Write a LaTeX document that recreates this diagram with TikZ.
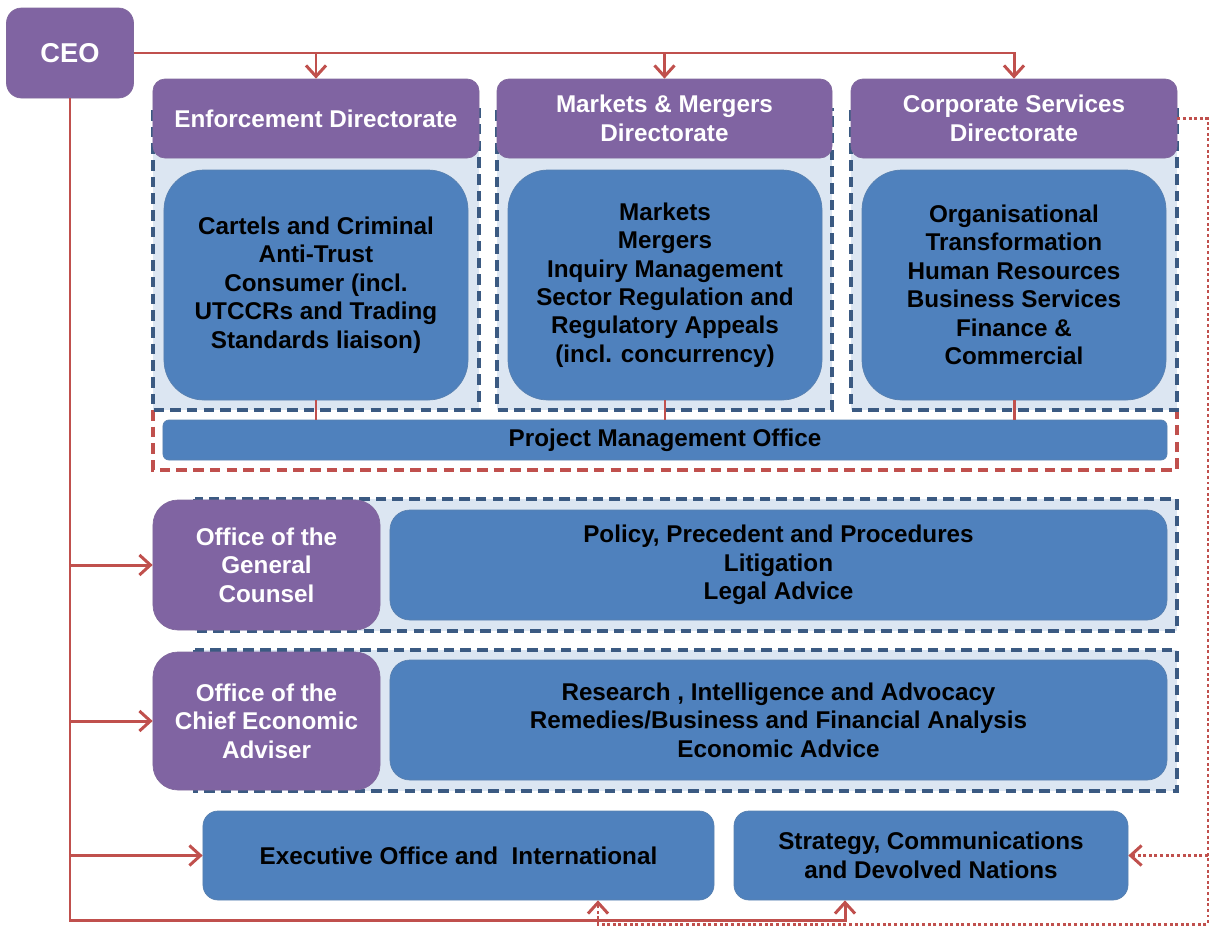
\documentclass[tikz,border=0pt]{standalone}
\usepackage{fontspec}
\setmainfont{Liberation Sans}
\usetikzlibrary{arrows.meta}

\definecolor{dirpurple}{HTML}{8064A2}
\definecolor{unitblue}{HTML}{4F81BD}
\definecolor{groupfill}{HTML}{DCE6F2}
\definecolor{groupedge}{HTML}{3B5A82}
\definecolor{linkred}{HTML}{C0504D}

\begin{document}
\begin{tikzpicture}[x=0.2mm, y=-0.2mm,
    every node/.style={font=\fontsize{13.8}{16.2}\selectfont\bfseries, align=center, inner sep=0pt},
    head/.style={fill=dirpurple, draw=dirpurple!85!gray, text=white, rounded corners=2.4mm},
    unit/.style={fill=unitblue, draw=unitblue!80!gray, text=black, rounded corners=3mm},
    group/.style={fill=groupfill, draw=groupedge, line width=2.2pt, dash pattern=on 6pt off 3.5pt},
    link/.style={draw=linkred, line width=1.7pt, -{Straight Barb[length=2.2mm,width=4mm]}},
    dotlink/.style={link, dash pattern=on 1.7pt off 1.5pt}]
    \useasboundingbox (0,0) rectangle (1209,926);

    % Dashed frames behind the boxes
    \draw[draw=linkred, line width=2.2pt, dash pattern=on 6pt off 3.5pt]
        (153,410) -- (153,470) -- (1177,470) -- (1177,410);
    \draw[group] (153,110) rectangle (479,410);
    \draw[group] (497,110) rectangle (832,410);
    \draw[group] (851,110) rectangle (1177,410);
    \draw[group] (195,499) rectangle (1177,631);
    \draw[group] (195,650) rectangle (1177,791);

    % CEO and directorates
    \node[head, rounded corners=3mm, minimum width=25.4mm, minimum height=18mm,
          font=\fontsize{15.5}{18}\selectfont\bfseries] (ceo) at (70,53) {CEO};
    \node[head, minimum width=65.2mm, minimum height=15.8mm] (enf) at (316,118.5) {Enforcement Directorate};
    \node[head, minimum width=67mm, minimum height=15.8mm] (mm) at (664.5,118.5) {Markets \& Mergers\\Directorate};
    \node[head, minimum width=65.2mm, minimum height=15.8mm] (cs) at (1014,118.5) {Corporate Services\\Directorate};

    % Units inside each directorate
    \node[unit, rounded corners=8mm, minimum width=60.8mm, minimum height=46mm] (enfunits) at (316,285)
        {Cartels and Criminal\\Anti-Trust\\Consumer (incl.\\UTCCRs and Trading\\Standards liaison)};
    \node[unit, rounded corners=8mm, minimum width=62.8mm, minimum height=46mm] (mmunits) at (665,285)
        {Markets\\Mergers\\Inquiry Management\\Sector Regulation and\\Regulatory Appeals\\(incl. concurrency)};
    \node[unit, rounded corners=8mm, minimum width=60.8mm, minimum height=46mm] (csunits) at (1014,285)
        {Organisational\\Transformation\\Human Resources\\Business Services\\Finance \&\\Commercial};
    \node[unit, rounded corners=1.2mm, minimum width=200.8mm, minimum height=8mm] (pmo) at (665,440)
        {Project Management Office};

    % Offices
    \node[head, rounded corners=5mm, minimum width=45.4mm, minimum height=26mm] (gc) at (266.5,565)
        {Office of the\\General\\Counsel};
    \node[unit, rounded corners=4mm, minimum width=155.4mm, minimum height=22mm] (gcunits) at (778.5,565)
        {Policy, Precedent and Procedures\\Litigation\\Legal Advice};
    \node[head, rounded corners=5mm, minimum width=45.4mm, minimum height=27.6mm] (cea) at (266.5,721)
        {Office of the\\Chief Economic\\Adviser};
    \node[unit, rounded corners=4mm, minimum width=155.4mm, minimum height=24mm] (ceaunits) at (778.5,720)
        {Research , Intelligence and Advocacy\\Remedies/Business and Financial Analysis\\Economic Advice};

    \node[unit, minimum width=102.2mm, minimum height=17.8mm] (exec) at (458.5,855.5)
        {Executive Office and\ \ International};
    \node[unit, minimum width=78.8mm, minimum height=17.8mm] (strat) at (931,855.5)
        {Strategy, Communications\\and Devolved Nations};

    % Links from the CEO
    \draw[link] (ceo.east) -| (cs.north);
    \draw[link] (ceo.east -| enf.north) -- (enf.north);
    \draw[link] (ceo.east -| mm.north) -- (mm.north);

    \coordinate (sb) at (845,920);
    \coordinate (tb) at (ceo.south |- sb);
    \draw[link] (ceo.south) -- (tb) -- (sb) -- (sb |- strat.south);
    \draw[link] (ceo.south |- gc.west) -- (gc.west);
    \draw[link] (ceo.south |- cea.west) -- (cea.west);
    \draw[link] (ceo.south |- exec.west) -- (exec.west);

    % Directorates feed the project office
    \draw[linkred, line width=1.7pt] (enfunits.south) -- (enfunits.south |- pmo.north);
    \draw[linkred, line width=1.7pt] (mmunits.south) -- (mmunits.south |- pmo.north);
    \draw[linkred, line width=1.7pt] (csunits.south) -- (csunits.south |- pmo.north);

    % Dotted links from corporate services
    \coordinate (dtop) at (1208,118.5);
    \coordinate (dbot) at (1208,924);
    \coordinate (dx) at (598,924);
    \draw[dotlink] (cs.east) -- (dtop) -- (dbot) -- (dx) -- (dx |- exec.south);
    \draw[dotlink] (dtop |- strat.east) -- (strat.east);
\end{tikzpicture}
\end{document}
